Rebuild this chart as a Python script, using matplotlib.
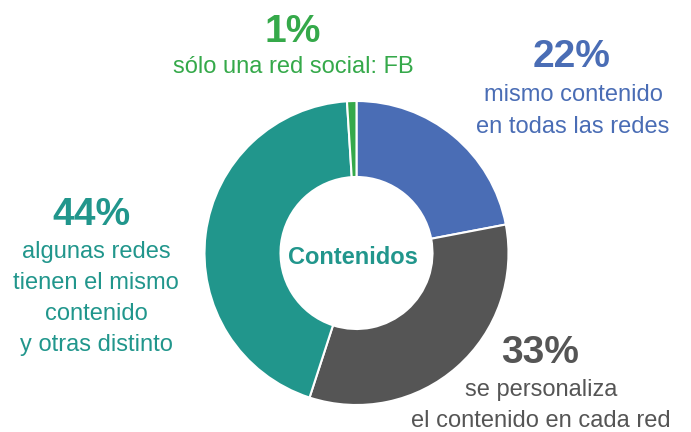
import matplotlib.pyplot as plt

plt.rcParams['font.family'] = ['Liberation Sans', 'DejaVu Sans']

# data (clockwise from 12 o'clock)
shares = [22, 33, 44, 1]
colors = ['#4a6db5', '#555555', '#21968c', '#35a94a']
pct_labels = ['22%', '33%', '44%', '1%']
desc_labels = [
    ['mismo contenido', 'en todas las redes'],
    ['se personaliza', 'el contenido en cada red'],
    ['algunas redes', 'tienen el mismo', 'contenido', 'y otras distinto'],
    ['sólo una red social: FB'],
]
center_label = 'Contenidos'

W, H = 691, 432
fig = plt.figure(figsize=(W / 100, H / 100), dpi=100)
ax = fig.add_axes([0, 0, 1, 1])

# donut
ax.pie(shares, colors=colors, startangle=90, counterclock=False,
       center=(356.5, H - 253), radius=152,
       wedgeprops=dict(width=76, edgecolor='white', linewidth=1.5))

# pie() resets the limits, so set them afterwards (1 unit = 1 px)
ax.set_xlim(0, W)
ax.set_ylim(0, H)
ax.set_aspect('equal')
ax.axis('off')

ax.text(353, H - 264, center_label, ha='center', va='baseline',
        fontsize=17, fontweight='bold', color='#21968c')

# label placement: (pct x, pct baseline, text x, first baseline, line step) in px
label_pos = [
    (572, 67, 573, 101, 32),
    (540, 363, 541, 396, 31),
    (91, 225, 96, 258, 31),
    (293, 42, 293, 73, 30),
]

for i, (px, pb, tx, tb, step) in enumerate(label_pos):
    c = colors[i]
    ax.text(px, H - pb, pct_labels[i], ha='center', va='baseline',
            fontsize=28, fontweight='bold', color=c)
    for j, line in enumerate(desc_labels[i]):
        ax.text(tx, H - (tb + j * step), line, ha='center', va='baseline',
                fontsize=17, color=c)

fig.savefig('out.png', dpi=100)
